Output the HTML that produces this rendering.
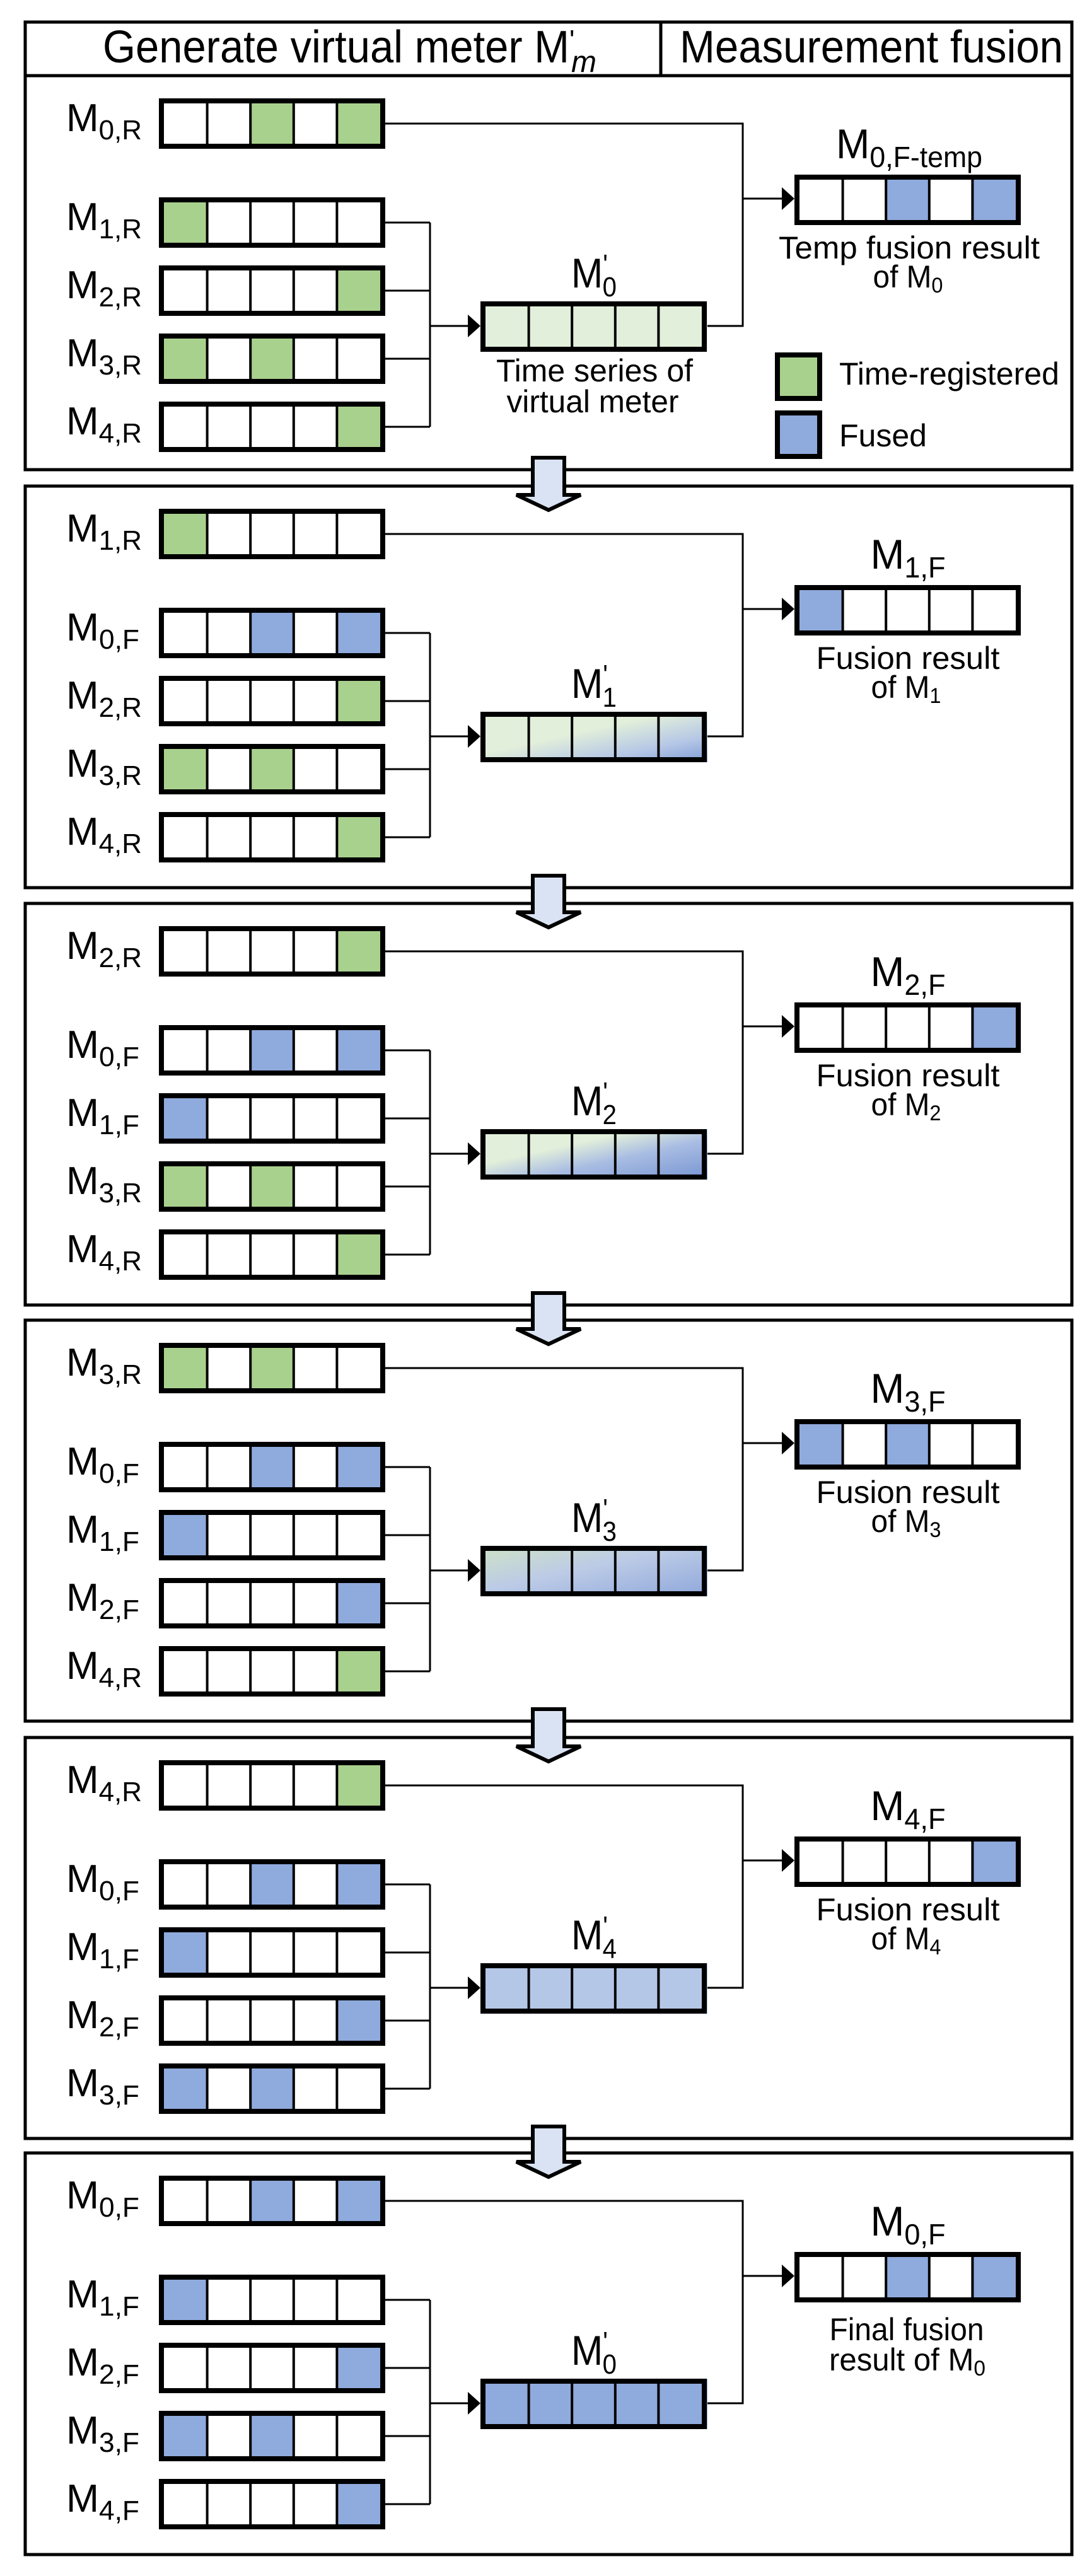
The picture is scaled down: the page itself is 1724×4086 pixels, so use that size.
<!DOCTYPE html>
<html><head><meta charset="utf-8"><style>
html,body{margin:0;padding:0;background:#fff;}
svg{display:block;}
text{font-family:"Liberation Sans",sans-serif;fill:#000;}
</style></head><body>
<svg width="1724" height="4086" viewBox="0 0 1724 4086" xmlns="http://www.w3.org/2000/svg">
<defs>
<rect id="bg" x="0" y="0" width="359" height="80" fill="#fff"/>
<g id="fr" fill="none" stroke="#000">
<rect x="4" y="4" width="351" height="72" stroke-width="8"/>
<path d="M76.6,8V72M145.2,8V72M213.8,8V72M282.4,8V72" stroke-width="4"/>
</g>
<rect id="g0" x="8" y="8" width="68.6" height="64" fill="#a9d18e"/>
<rect id="g2" x="145.2" y="8" width="68.6" height="64" fill="#a9d18e"/>
<rect id="g4" x="282.4" y="8" width="68.6" height="64" fill="#a9d18e"/>
<rect id="b0" x="8" y="8" width="68.6" height="64" fill="#8faadc"/>
<rect id="b2" x="145.2" y="8" width="68.6" height="64" fill="#8faadc"/>
<rect id="b4" x="282.4" y="8" width="68.6" height="64" fill="#8faadc"/>
<linearGradient id="gr1" x1="0" y1="0" x2="1" y2="1">
<stop offset="0" stop-color="#e2efda"/><stop offset="0.42" stop-color="#e2efda"/><stop offset="0.75" stop-color="#b4c6e6"/><stop offset="1" stop-color="#7d9bd6"/></linearGradient>
<linearGradient id="gr2" x1="0" y1="0" x2="1" y2="1">
<stop offset="0" stop-color="#e2efda"/><stop offset="0.35" stop-color="#e2efda"/><stop offset="0.6" stop-color="#a9bde3"/><stop offset="1" stop-color="#7694d2"/></linearGradient>
<linearGradient id="gr3" x1="0" y1="0" x2="1" y2="1">
<stop offset="0" stop-color="#cfe3c6"/><stop offset="0.45" stop-color="#bccbe6"/><stop offset="1" stop-color="#8fa8db"/></linearGradient>
<g id="conn">
<path d="M611,233H682M611,341H682M611,449H682M611,557H682M682,233V557M682,397H746M1122,397H1178V76H611M1178,195H1244" fill="none" stroke="#000" stroke-width="3"/>
<polygon points="742,379 762,397 742,415" fill="#000"/>
<polygon points="1240,177 1260,195 1240,213" fill="#000"/>
</g>
</defs>

<g fill="none" stroke="#000" stroke-width="5">
<rect x="40" y="35" width="1660" height="710"/>
<path d="M40,120H1700M1048,35V120"/>
<rect x="40" y="771" width="1660" height="637"/>
<rect x="40" y="1433" width="1660" height="637"/>
<rect x="40" y="2094" width="1660" height="636"/>
<rect x="40" y="2756" width="1660" height="636"/>
<rect x="40" y="3415" width="1660" height="637"/>
</g>
<text x="163" y="99" font-size="72" textLength="740" lengthAdjust="spacingAndGlyphs">Generate virtual meter M</text>
<text x="903" y="78" font-size="44">'</text>
<text x="906" y="114" font-size="48" font-style="italic">m</text>
<text x="1078" y="99" font-size="72" textLength="608" lengthAdjust="spacingAndGlyphs">Measurement fusion</text>

<g transform="translate(0,745)"><polygon points="845,-19 895,-19 895,40 921,40 870,64 819,40 845,40" fill="#dae3f3" stroke="#000" stroke-width="6"/></g>
<g transform="translate(0,1408)"><polygon points="845,-19 895,-19 895,39 921,39 870,63 819,39 845,39" fill="#dae3f3" stroke="#000" stroke-width="6"/></g>
<g transform="translate(0,2070)"><polygon points="845,-19 895,-19 895,38 921,38 870,62 819,38 845,38" fill="#dae3f3" stroke="#000" stroke-width="6"/></g>
<g transform="translate(0,2730)"><polygon points="845,-19 895,-19 895,40 921,40 870,64 819,40 845,40" fill="#dae3f3" stroke="#000" stroke-width="6"/></g>
<g transform="translate(0,3392)"><polygon points="845,-19 895,-19 895,37 921,37 870,61 819,37 845,37" fill="#dae3f3" stroke="#000" stroke-width="6"/></g>

<!-- PANEL 1 -->
<g transform="translate(0,120)">
<use href="#conn"/>
<g transform="translate(252,36)"><use href="#bg"/><use href="#g2"/><use href="#g4"/><use href="#fr"/></g>
<g transform="translate(252,193)"><use href="#bg"/><use href="#g0"/><use href="#fr"/></g>
<g transform="translate(252,301)"><use href="#bg"/><use href="#g4"/><use href="#fr"/></g>
<g transform="translate(252,409)"><use href="#bg"/><use href="#g0"/><use href="#g2"/><use href="#fr"/></g>
<g transform="translate(252,517)"><use href="#bg"/><use href="#g4"/><use href="#fr"/></g>
<text x="105" y="88" font-size="62" textLength="120" lengthAdjust="spacingAndGlyphs">M<tspan font-size="44" dy="13">0,R</tspan></text>
<text x="105" y="245" font-size="62" textLength="120" lengthAdjust="spacingAndGlyphs">M<tspan font-size="44" dy="13">1,R</tspan></text>
<text x="105" y="353" font-size="62" textLength="120" lengthAdjust="spacingAndGlyphs">M<tspan font-size="44" dy="13">2,R</tspan></text>
<text x="105" y="461" font-size="62" textLength="120" lengthAdjust="spacingAndGlyphs">M<tspan font-size="44" dy="13">3,R</tspan></text>
<text x="105" y="569" font-size="62" textLength="120" lengthAdjust="spacingAndGlyphs">M<tspan font-size="44" dy="13">4,R</tspan></text>
<g transform="translate(762,358)"><rect x="0" y="0" width="360" height="80" fill="#e2efda"/><use href="#fr"/></g>
<g transform="translate(1260,157)"><use href="#bg"/><use href="#b2"/><use href="#b4"/><use href="#fr"/></g>
<text x="1442" y="131" font-size="66" text-anchor="middle" textLength="232" lengthAdjust="spacingAndGlyphs">M<tspan font-size="46" dy="14">0,F-temp</tspan></text>
<text x="942" y="336" font-size="66" text-anchor="middle" textLength="72" lengthAdjust="spacingAndGlyphs">M<tspan font-size="44" dy="-22">'</tspan><tspan font-size="44" dx="-9" dy="36">0</tspan></text>
<text x="1442" y="290" font-size="50" text-anchor="middle" textLength="414" lengthAdjust="spacingAndGlyphs">Temp fusion result</text>
<text x="1440" y="336" font-size="50" text-anchor="middle" textLength="111" lengthAdjust="spacingAndGlyphs">of M<tspan font-size="34" dy="8">0</tspan></text>
<text x="943" y="485" font-size="50" text-anchor="middle" textLength="312" lengthAdjust="spacingAndGlyphs">Time series of</text>
<text x="940" y="534" font-size="50" text-anchor="middle" textLength="273" lengthAdjust="spacingAndGlyphs">virtual meter</text>
<rect x="1233" y="443" width="67" height="69" fill="#a9d18e" stroke="#000" stroke-width="8"/>
<rect x="1233" y="535" width="67" height="69" fill="#8faadc" stroke="#000" stroke-width="8"/>
<text x="1331" y="490" font-size="50" textLength="349" lengthAdjust="spacingAndGlyphs">Time-registered</text>
<text x="1331" y="588" font-size="50" textLength="139" lengthAdjust="spacingAndGlyphs">Fused</text>
</g>

<!-- PANEL 2 -->
<g transform="translate(0,771)">
<use href="#conn"/>
<g transform="translate(252,36)"><use href="#bg"/><use href="#g0"/><use href="#fr"/></g>
<g transform="translate(252,193)"><use href="#bg"/><use href="#b2"/><use href="#b4"/><use href="#fr"/></g>
<g transform="translate(252,301)"><use href="#bg"/><use href="#g4"/><use href="#fr"/></g>
<g transform="translate(252,409)"><use href="#bg"/><use href="#g0"/><use href="#g2"/><use href="#fr"/></g>
<g transform="translate(252,517)"><use href="#bg"/><use href="#g4"/><use href="#fr"/></g>
<text x="105" y="88" font-size="62" textLength="120" lengthAdjust="spacingAndGlyphs">M<tspan font-size="44" dy="13">1,R</tspan></text>
<text x="105" y="245" font-size="62" textLength="116" lengthAdjust="spacingAndGlyphs">M<tspan font-size="44" dy="13">0,F</tspan></text>
<text x="105" y="353" font-size="62" textLength="120" lengthAdjust="spacingAndGlyphs">M<tspan font-size="44" dy="13">2,R</tspan></text>
<text x="105" y="461" font-size="62" textLength="120" lengthAdjust="spacingAndGlyphs">M<tspan font-size="44" dy="13">3,R</tspan></text>
<text x="105" y="569" font-size="62" textLength="120" lengthAdjust="spacingAndGlyphs">M<tspan font-size="44" dy="13">4,R</tspan></text>
<g transform="translate(762,358)"><rect x="0" y="0" width="360" height="80" fill="url(#gr1)"/><use href="#fr"/></g>
<g transform="translate(1260,157)"><use href="#bg"/><use href="#b0"/><use href="#fr"/></g>
<text x="1440" y="131" font-size="66" text-anchor="middle" textLength="119" lengthAdjust="spacingAndGlyphs">M<tspan font-size="46" dy="14">1,F</tspan></text>
<text x="942" y="336" font-size="66" text-anchor="middle" textLength="72" lengthAdjust="spacingAndGlyphs">M<tspan font-size="44" dy="-22">'</tspan><tspan font-size="44" dx="-9" dy="36">1</tspan></text>
<text x="1440" y="290" font-size="50" text-anchor="middle" textLength="291" lengthAdjust="spacingAndGlyphs">Fusion result</text>
<text x="1437" y="336" font-size="50" text-anchor="middle" textLength="111" lengthAdjust="spacingAndGlyphs">of M<tspan font-size="34" dy="8">1</tspan></text>
</g>

<!-- PANEL 3 -->
<g transform="translate(0,1433)">
<use href="#conn"/>
<g transform="translate(252,36)"><use href="#bg"/><use href="#g4"/><use href="#fr"/></g>
<g transform="translate(252,193)"><use href="#bg"/><use href="#b2"/><use href="#b4"/><use href="#fr"/></g>
<g transform="translate(252,301)"><use href="#bg"/><use href="#b0"/><use href="#fr"/></g>
<g transform="translate(252,409)"><use href="#bg"/><use href="#g0"/><use href="#g2"/><use href="#fr"/></g>
<g transform="translate(252,517)"><use href="#bg"/><use href="#g4"/><use href="#fr"/></g>
<text x="105" y="88" font-size="62" textLength="120" lengthAdjust="spacingAndGlyphs">M<tspan font-size="44" dy="13">2,R</tspan></text>
<text x="105" y="245" font-size="62" textLength="116" lengthAdjust="spacingAndGlyphs">M<tspan font-size="44" dy="13">0,F</tspan></text>
<text x="105" y="353" font-size="62" textLength="116" lengthAdjust="spacingAndGlyphs">M<tspan font-size="44" dy="13">1,F</tspan></text>
<text x="105" y="461" font-size="62" textLength="120" lengthAdjust="spacingAndGlyphs">M<tspan font-size="44" dy="13">3,R</tspan></text>
<text x="105" y="569" font-size="62" textLength="120" lengthAdjust="spacingAndGlyphs">M<tspan font-size="44" dy="13">4,R</tspan></text>
<g transform="translate(762,358)"><rect x="0" y="0" width="360" height="80" fill="url(#gr2)"/><use href="#fr"/></g>
<g transform="translate(1260,157)"><use href="#bg"/><use href="#b4"/><use href="#fr"/></g>
<text x="1440" y="131" font-size="66" text-anchor="middle" textLength="119" lengthAdjust="spacingAndGlyphs">M<tspan font-size="46" dy="14">2,F</tspan></text>
<text x="942" y="336" font-size="66" text-anchor="middle" textLength="72" lengthAdjust="spacingAndGlyphs">M<tspan font-size="44" dy="-22">'</tspan><tspan font-size="44" dx="-9" dy="36">2</tspan></text>
<text x="1440" y="290" font-size="50" text-anchor="middle" textLength="291" lengthAdjust="spacingAndGlyphs">Fusion result</text>
<text x="1437" y="336" font-size="50" text-anchor="middle" textLength="111" lengthAdjust="spacingAndGlyphs">of M<tspan font-size="34" dy="8">2</tspan></text>
</g>

<!-- PANEL 4 -->
<g transform="translate(0,2094)">
<use href="#conn"/>
<g transform="translate(252,36)"><use href="#bg"/><use href="#g0"/><use href="#g2"/><use href="#fr"/></g>
<g transform="translate(252,193)"><use href="#bg"/><use href="#b2"/><use href="#b4"/><use href="#fr"/></g>
<g transform="translate(252,301)"><use href="#bg"/><use href="#b0"/><use href="#fr"/></g>
<g transform="translate(252,409)"><use href="#bg"/><use href="#b4"/><use href="#fr"/></g>
<g transform="translate(252,517)"><use href="#bg"/><use href="#g4"/><use href="#fr"/></g>
<text x="105" y="88" font-size="62" textLength="120" lengthAdjust="spacingAndGlyphs">M<tspan font-size="44" dy="13">3,R</tspan></text>
<text x="105" y="245" font-size="62" textLength="116" lengthAdjust="spacingAndGlyphs">M<tspan font-size="44" dy="13">0,F</tspan></text>
<text x="105" y="353" font-size="62" textLength="116" lengthAdjust="spacingAndGlyphs">M<tspan font-size="44" dy="13">1,F</tspan></text>
<text x="105" y="461" font-size="62" textLength="116" lengthAdjust="spacingAndGlyphs">M<tspan font-size="44" dy="13">2,F</tspan></text>
<text x="105" y="569" font-size="62" textLength="120" lengthAdjust="spacingAndGlyphs">M<tspan font-size="44" dy="13">4,R</tspan></text>
<g transform="translate(762,358)"><rect x="0" y="0" width="360" height="80" fill="url(#gr3)"/><use href="#fr"/></g>
<g transform="translate(1260,157)"><use href="#bg"/><use href="#b0"/><use href="#b2"/><use href="#fr"/></g>
<text x="1440" y="131" font-size="66" text-anchor="middle" textLength="119" lengthAdjust="spacingAndGlyphs">M<tspan font-size="46" dy="14">3,F</tspan></text>
<text x="942" y="336" font-size="66" text-anchor="middle" textLength="72" lengthAdjust="spacingAndGlyphs">M<tspan font-size="44" dy="-22">'</tspan><tspan font-size="44" dx="-9" dy="36">3</tspan></text>
<text x="1440" y="290" font-size="50" text-anchor="middle" textLength="291" lengthAdjust="spacingAndGlyphs">Fusion result</text>
<text x="1437" y="336" font-size="50" text-anchor="middle" textLength="111" lengthAdjust="spacingAndGlyphs">of M<tspan font-size="34" dy="8">3</tspan></text>
</g>

<!-- PANEL 5 -->
<g transform="translate(0,2756)">
<use href="#conn"/>
<g transform="translate(252,36)"><use href="#bg"/><use href="#g4"/><use href="#fr"/></g>
<g transform="translate(252,193)"><use href="#bg"/><use href="#b2"/><use href="#b4"/><use href="#fr"/></g>
<g transform="translate(252,301)"><use href="#bg"/><use href="#b0"/><use href="#fr"/></g>
<g transform="translate(252,409)"><use href="#bg"/><use href="#b4"/><use href="#fr"/></g>
<g transform="translate(252,517)"><use href="#bg"/><use href="#b0"/><use href="#b2"/><use href="#fr"/></g>
<text x="105" y="88" font-size="62" textLength="120" lengthAdjust="spacingAndGlyphs">M<tspan font-size="44" dy="13">4,R</tspan></text>
<text x="105" y="245" font-size="62" textLength="116" lengthAdjust="spacingAndGlyphs">M<tspan font-size="44" dy="13">0,F</tspan></text>
<text x="105" y="353" font-size="62" textLength="116" lengthAdjust="spacingAndGlyphs">M<tspan font-size="44" dy="13">1,F</tspan></text>
<text x="105" y="461" font-size="62" textLength="116" lengthAdjust="spacingAndGlyphs">M<tspan font-size="44" dy="13">2,F</tspan></text>
<text x="105" y="569" font-size="62" textLength="116" lengthAdjust="spacingAndGlyphs">M<tspan font-size="44" dy="13">3,F</tspan></text>
<g transform="translate(762,358)"><rect x="0" y="0" width="360" height="80" fill="#b4c7e7"/><use href="#fr"/></g>
<g transform="translate(1260,157)"><use href="#bg"/><use href="#b4"/><use href="#fr"/></g>
<text x="1440" y="131" font-size="66" text-anchor="middle" textLength="119" lengthAdjust="spacingAndGlyphs">M<tspan font-size="46" dy="14">4,F</tspan></text>
<text x="942" y="336" font-size="66" text-anchor="middle" textLength="72" lengthAdjust="spacingAndGlyphs">M<tspan font-size="44" dy="-22">'</tspan><tspan font-size="44" dx="-9" dy="36">4</tspan></text>
<text x="1440" y="290" font-size="50" text-anchor="middle" textLength="291" lengthAdjust="spacingAndGlyphs">Fusion result</text>
<text x="1437" y="336" font-size="50" text-anchor="middle" textLength="111" lengthAdjust="spacingAndGlyphs">of M<tspan font-size="34" dy="8">4</tspan></text>
</g>

<!-- PANEL 6 -->
<g transform="translate(0,3415)">
<use href="#conn"/>
<g transform="translate(252,36)"><use href="#bg"/><use href="#b2"/><use href="#b4"/><use href="#fr"/></g>
<g transform="translate(252,193)"><use href="#bg"/><use href="#b0"/><use href="#fr"/></g>
<g transform="translate(252,301)"><use href="#bg"/><use href="#b4"/><use href="#fr"/></g>
<g transform="translate(252,409)"><use href="#bg"/><use href="#b0"/><use href="#b2"/><use href="#fr"/></g>
<g transform="translate(252,517)"><use href="#bg"/><use href="#b4"/><use href="#fr"/></g>
<text x="105" y="88" font-size="62" textLength="116" lengthAdjust="spacingAndGlyphs">M<tspan font-size="44" dy="13">0,F</tspan></text>
<text x="105" y="245" font-size="62" textLength="116" lengthAdjust="spacingAndGlyphs">M<tspan font-size="44" dy="13">1,F</tspan></text>
<text x="105" y="353" font-size="62" textLength="116" lengthAdjust="spacingAndGlyphs">M<tspan font-size="44" dy="13">2,F</tspan></text>
<text x="105" y="461" font-size="62" textLength="116" lengthAdjust="spacingAndGlyphs">M<tspan font-size="44" dy="13">3,F</tspan></text>
<text x="105" y="569" font-size="62" textLength="116" lengthAdjust="spacingAndGlyphs">M<tspan font-size="44" dy="13">4,F</tspan></text>
<g transform="translate(762,358)"><rect x="0" y="0" width="360" height="80" fill="#8faadc"/><use href="#fr"/></g>
<g transform="translate(1260,157)"><use href="#bg"/><use href="#b2"/><use href="#b4"/><use href="#fr"/></g>
<text x="1440" y="131" font-size="66" text-anchor="middle" textLength="119" lengthAdjust="spacingAndGlyphs">M<tspan font-size="46" dy="14">0,F</tspan></text>
<text x="942" y="336" font-size="66" text-anchor="middle" textLength="72" lengthAdjust="spacingAndGlyphs">M<tspan font-size="44" dy="-22">'</tspan><tspan font-size="44" dx="-9" dy="36">0</tspan></text>
<text x="1438" y="297" font-size="50" text-anchor="middle" textLength="245" lengthAdjust="spacingAndGlyphs">Final fusion</text>
<text x="1439" y="345" font-size="50" text-anchor="middle" textLength="248" lengthAdjust="spacingAndGlyphs">result of M<tspan font-size="34" dy="8">0</tspan></text>
</g>
</svg>
</body></html>
